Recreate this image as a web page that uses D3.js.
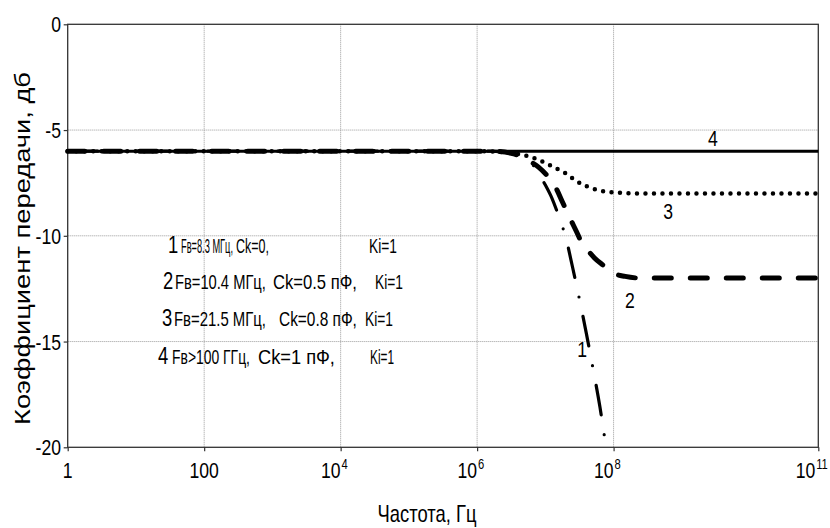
<!DOCTYPE html>
<html><head><meta charset="utf-8">
<script src="https://cdn.jsdelivr.net/npm/d3@7"></script>
<style>
body{margin:0;background:#fff;}
svg{display:block;}
text{font-family:"Liberation Sans",Arial,sans-serif;}
</style></head>
<body>
<svg id="chart" width="830" height="528"></svg>
<script>
// ---- data ----
const xTicks = [1, 100, 1e4, 1e6, 1e8, 1e11];
const xTickBase = ["1", "100", "10", "10", "10", "10"];
const xTickSup = ["", "", "4", "6", "8", "11"];
const xGrid = [100, 1e4, 1e6, 1e8];
const yTicks = [0, -5, -10, -15, -20];
const yGrid = [-5, -10, -15];

const c4Freq = [1, 1e11];
const c4Val = [-6, -6];

const c3Freq = [1, 1e6, 2.5e6, 5e6, 7.1e6, 1e7, 1.41e7, 2e7, 2.82e7, 3.98e7, 5.62e7, 7.94e7, 1.26e8, 3.16e8, 1e11];
const c3Val = [-6, -6, -6.05, -6.2, -6.35, -6.55, -6.8, -7.05, -7.4, -7.65, -7.82, -7.92, -7.97, -8, -8];

const c2Freq = [1, 1.58e6, 3.16e6, 6.03e6, 7.94e6, 1.07e7, 1.41e7, 1.78e7, 2.29e7, 2.82e7, 3.55e7, 4.47e7, 5.25e7, 7.08e7, 9.77e7, 1.48e8, 2.51e8, 1e11];
const c2Val = [-6, -6, -6.1, -6.5, -6.75, -7.17, -7.7, -8.4, -9.16, -9.76, -10.43, -10.8, -11.05, -11.4, -11.76, -11.92, -12, -12];

const c1Freq = [1, 1.58e6, 3.16e6, 6.03e6, 7.94e6, 1e7, 1.26e7, 1.58e7, 2e7, 2.51e7, 3.16e7, 3.98e7, 5.01e7, 6.31e7, 7.59e7];
const c1Val = [-6, -6, -6.1, -6.5, -7.05, -7.6, -8.25, -9.1, -10.1, -11.5, -13.0, -14.6, -16.3, -18.1, -19.8];

const curveLabels = ["1", "2", "3", "4"];
const curveLabelFreq = [3.45e7, 1.74e8, 6.3e8, 2.86e9];
const curveLabelVal = [-15.75, -13.4, -9.2, -5.75];

const legendNum = ["1", "2", "3", "4"];
const legendF = ["Fв=8.3 МГц,", "Fв=10.4 МГц,", "Fв=21.5 МГц,", "Fв>100 ГГц,"];
const legendC = ["Ck=0,", "Ck=0.5 пФ,", "Ck=0.8 пФ,", "Ck=1 пФ,"];
const legendK = ["Ki=1", "Ki=1", "Ki=1", "Ki=1"];

const xTitle = "Частота, Гц";
const yTitle = "Коэффициент передачи, дб";

// ---- drawing ----
const svg = d3.select("#chart");
const L = 67.7, R = 818.3, T = 24.3, B = 447.3;
const NARROW = 0.8;
const x = d3.scaleLog().domain([1, 1e11]).range([L, R]);
const y = d3.scaleLinear().domain([-20, 0]).range([B, T]);

// narrow text helper: horizontally condensed text anchored at (px,py)
function ntext(parent, px, py, str, size, anchor) {
  const gg = parent.append("g").attr("transform", `translate(${px},${py}) scale(${NARROW},1)`);
  return gg.append("text").attr("x", 0).attr("y", 0).attr("font-size", size)
    .attr("text-anchor", anchor || "start").attr("fill", "#000").text(str);
}
// text squeezed to a given width, starting at px
function ftext(parent, px, py, str, size, width) {
  const gg = parent.append("g");
  const t = gg.append("text").attr("x", 0).attr("y", 0).attr("font-size", size)
    .attr("fill", "#000").text(str);
  const len = t.node().getComputedTextLength() || width;
  gg.attr("transform", `translate(${px},${py}) scale(${width / len},1)`);
  return t;
}

// grid
svg.append("g").selectAll("line").data(yGrid).join("line")
  .attr("x1", L).attr("x2", R).attr("y1", d => y(d)).attr("y2", d => y(d))
  .attr("stroke", "#9a9a9a").attr("stroke-width", 1).attr("stroke-dasharray", "1,1");
svg.append("g").selectAll("line").data(xGrid).join("line")
  .attr("x1", d => x(d)).attr("x2", d => x(d)).attr("y1", T).attr("y2", B)
  .attr("stroke", "#9a9a9a").attr("stroke-width", 1).attr("stroke-dasharray", "1,1");

// frame
svg.append("rect").attr("x", L).attr("y", T).attr("width", R - L).attr("height", B - T)
  .attr("fill", "none").attr("stroke", "#333").attr("stroke-width", 1.3);

// axis ticks
const xa = svg.append("g").attr("transform", `translate(0,${B})`)
  .call(d3.axisBottom(x).tickValues(xTicks).tickSize(4).tickFormat(""));
xa.select(".domain").remove();
xa.selectAll("line").attr("stroke", "#333").attr("stroke-width", 1.2);

const ya = svg.append("g").attr("transform", `translate(${L},0)`)
  .call(d3.axisLeft(y).tickValues(yTicks).tickSize(4).tickFormat(""));
ya.select(".domain").remove();
ya.selectAll("line").attr("stroke", "#333").attr("stroke-width", 1.2);

// x tick labels
const xl = svg.append("g");
xTicks.forEach((t, i) => {
  if (xTickSup[i] === "") {
    ntext(xl, x(t), 478, xTickBase[i], 22, "middle");
  } else {
    const supSize = 14;
    const probe = ntext(xl, 0, 0, xTickSup[i], supSize, "start");
    const supW = probe.node().getComputedTextLength() * NARROW;
    probe.node().parentNode.remove();
    let shift = Math.min(0, 828 - (x(t) + 1 + supW));
    ntext(xl, x(t) + shift, 478, xTickBase[i], 22, "end");
    ntext(xl, x(t) + shift + 0.8, 469, xTickSup[i], supSize, "start");
  }
});

// y tick labels
const yl = svg.append("g");
yTicks.forEach(d => ntext(yl, 61, y(d) + 8, d === 0 ? "0" : "-" + Math.abs(d), 22, "end"));

// titles
ntext(svg, 427, 522, xTitle, 23, "middle");
svg.append("text").attr("font-size", 22).attr("fill", "#000")
  .attr("transform", "translate(30,248.5) rotate(-90)").attr("text-anchor", "middle")
  .attr("textLength", 353).attr("lengthAdjust", "spacingAndGlyphs").text(yTitle);

// curves
const line = d3.line().x(d => x(d[0])).y(d => y(d[1])).curve(d3.curveMonotoneX);
const zip = (a, b) => a.map((v, i) => [v, b[i]]);
const g = svg.append("g").attr("fill", "none").attr("stroke", "#000");
g.append("path").attr("d", line(zip(c4Freq, c4Val))).attr("stroke-width", 3);
g.append("path").attr("d", line(zip(c3Freq, c3Val))).attr("stroke-width", 4.5)
  .attr("stroke-linecap", "round").attr("stroke-dasharray", "0 8.5");
g.append("path").attr("d", line(zip(c2Freq, c2Val))).attr("stroke-width", 5)
  .attr("stroke-linecap", "round").attr("stroke-dasharray", "17 19");
g.append("path").attr("d", line(zip(c1Freq, c1Val))).attr("stroke-width", 3.2)
  .attr("stroke-linecap", "round").attr("stroke-dasharray", "30 20 0 20");

// curve labels
const cl = svg.append("g");
curveLabels.forEach((d, i) => ntext(cl, x(curveLabelFreq[i]), y(curveLabelVal[i]), d, 22, "middle"));

// legend
const legBase = [253, 289, 326, 364];
const numX = [168, 163, 162, 158];
const fX = [181, 175, 174, 172];
const fW = [52, 91, 92, 78];
const fS = [20, 20, 20, 20];
const cX = [236, 273, 279, 258];
const cW = [33, 84, 78, 77];
const kX = [369, 375, 365, 370];
const kW = [28, 28, 28, 24];
const lg = svg.append("g");
legendNum.forEach((n, i) => {
  ntext(lg, numX[i], legBase[i], n, 23, "start");
  ftext(lg, fX[i], legBase[i], legendF[i], fS[i], fW[i]);
  ftext(lg, cX[i], legBase[i], legendC[i], 21, cW[i]);
  ftext(lg, kX[i], legBase[i], legendK[i], 21, kW[i]);
});
</script>
</body></html>
